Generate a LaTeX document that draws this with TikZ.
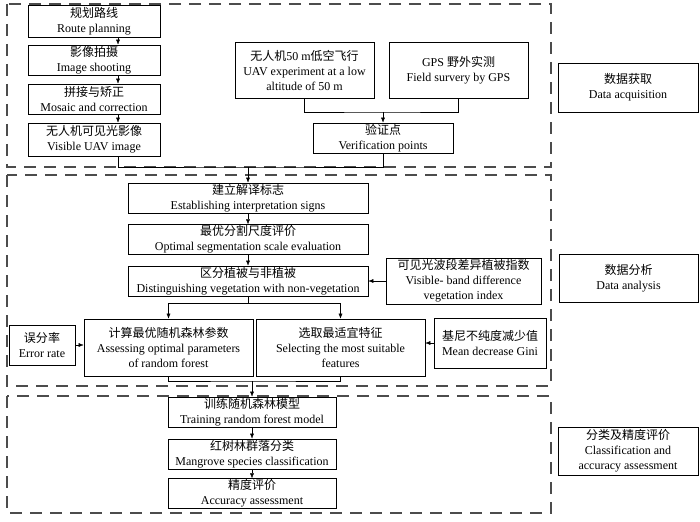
\documentclass[tikz,border=0pt]{standalone}
\usepackage{fontspec}
\setmainfont{Liberation Serif}
\newfontfamily\cjk[Scale=1.0]{Noto Sans CJK SC}
\usetikzlibrary{positioning, calc, arrows.meta}
\newcommand{\zh}[1]{{\cjk #1}}

\begin{document}
\begin{tikzpicture}[x=1pt, y=-1pt, font=\fontsize{12}{15}\selectfont,
    box/.style={draw, line width=0.7pt, align=center, inner sep=1pt},
    group/.style={draw=black!70, line width=1.1pt, dash pattern=on 12pt off 8pt},
    arr/.style={-{Latex[length=5pt,width=4pt]}}]
	\useasboundingbox (0,0) rectangle (700,521);
	
	% dashed stages
	\draw[group] (7,4) rectangle (551,167);
	\draw[group] (7,175) rectangle (551,386);
	\draw[group] (7,396) rectangle (551,513);
	
	% data acquisition
	\node[box, minimum width=132pt, minimum height=32pt] (route)   at (94,21)  {\zh{规划路线}\\Route planning};
	\node[box, minimum width=132pt, minimum height=30pt] (shoot)   at (94,60)  {\zh{影像拍摄}\\Image shooting};
	\node[box, minimum width=132pt, minimum height=30pt] (mosaic)  at (94,99)  {\zh{拼接与矫正}\\Mosaic and correction};
	\node[box, minimum width=132pt, minimum height=33pt] (visible) at (94,139.5) {\zh{无人机可见光影像}\\Visible UAV image};
	\node[box, minimum width=139pt, minimum height=56pt] (uav)     at (304.5,70) {\zh{无人机}50 m\zh{低空飞行}\\UAV experiment at a low\\altitude of 50 m};
	\node[box, minimum width=139pt, minimum height=56pt] (gps)     at (458.5,70) {GPS \zh{野外实测}\\Field survery by GPS};
	\node[box, minimum width=140pt, minimum height=30pt] (verif)   at (383,138) {\zh{验证点}\\Verification points};
	\node[box, minimum width=140pt, minimum height=49pt] (acq)     at (628,87.5) {\zh{数据获取}\\Data acquisition};
	
	% data analysis
	\node[box, minimum width=240pt, minimum height=30pt] (signs)   at (248,198) {\zh{建立解译标志}\\Establishing interpretation signs};
	\node[box, minimum width=240pt, minimum height=29pt] (scale)   at (248,239.5) {\zh{最优分割尺度评价}\\Optimal segmentation scale evaluation};
	\node[box, minimum width=240pt, minimum height=30pt] (veg)     at (248,281) {\zh{区分植被与非植被}\\Distinguishing vegetation with non-vegetation};
	\node[box, minimum width=155pt, minimum height=46pt] (vdvi)    at (463.5,281) {\zh{可见光波段差异植被指数}\\Visible- band difference\\vegetation index};
	\node[box, minimum width=139pt, minimum height=48pt] (anal)    at (628.5,278) {\zh{数据分析}\\Data analysis};
	\node[box, minimum width=66pt, minimum height=40pt]  (err)     at (42,345)  {\zh{误分率}\\Error rate};
	\node[box, minimum width=169pt, minimum height=57pt] (rf)      at (168.5,347.5) {\zh{计算最优随机森林参数}\\Assessing optimal parameters\\of random forest};
	\node[box, minimum width=169pt, minimum height=57pt] (feat)    at (340.5,347.5) {\zh{选取最适宜特征}\\Selecting the most suitable\\features};
	\node[box, minimum width=112pt, minimum height=50pt] (gini)    at (490,343) {\zh{基尼不纯度减少值}\\Mean decrease Gini};
	
	% classification
	\node[box, minimum width=168pt, minimum height=30pt] (train)   at (252,412) {\zh{训练随机森林模型}\\Training random forest model};
	\node[box, minimum width=168pt, minimum height=30pt] (mangrove) at (252,454) {\zh{红树林群落分类}\\Mangrove species classification};
	\node[box, minimum width=168pt, minimum height=29pt] (acc)     at (252,493.5) {\zh{精度评价}\\Accuracy assessment};
	\node[box, minimum width=140pt, minimum height=48pt] (cls)     at (628,451) {\zh{分类及精度评价}\\Classification and\\accuracy assessment};
	
	\coordinate (join0) at (383,112);
	\coordinate (join1) at (248,167);
	\coordinate (split) at (248,303);
	\coordinate (merge) at (252,381);
	
	\draw[arr] ([xshift=24pt]route.south) -- ([xshift=24pt]shoot.north);
	\draw[arr] ([xshift=24pt]shoot.south) -- ([xshift=24pt]mosaic.north);
	\draw[arr] ([xshift=24pt]mosaic.south) -- ([xshift=24pt]visible.north);
	\draw (uav.south) |- (join0) -| (gps.south);
	\draw[arr] (join0) -- (verif.north);
	\draw ([xshift=24pt]visible.south) |- (join1) -| (verif.south);
	\draw[arr] (join1) -- (signs.north);
	\draw[arr] (signs) -- (scale);
	\draw[arr] (scale) -- (veg);
	\draw[arr] (vdvi) -- (veg);
	\draw (veg.south) -- (split);
	\draw[arr] (split) -| (rf.north);
	\draw[arr] (split) -| (feat.north);
	\draw[arr] (err.east) -- (err.east -| rf.west);
	\draw[arr] (gini.west) -- (gini.west -| feat.east);
	\draw (rf.south) |- (merge) -| (feat.south);
	\draw[arr] (merge) -- (train.north);
	\draw[arr] (train) -- (mangrove);
	\draw[arr] (mangrove) -- (acc);
\end{tikzpicture}
\end{document}
